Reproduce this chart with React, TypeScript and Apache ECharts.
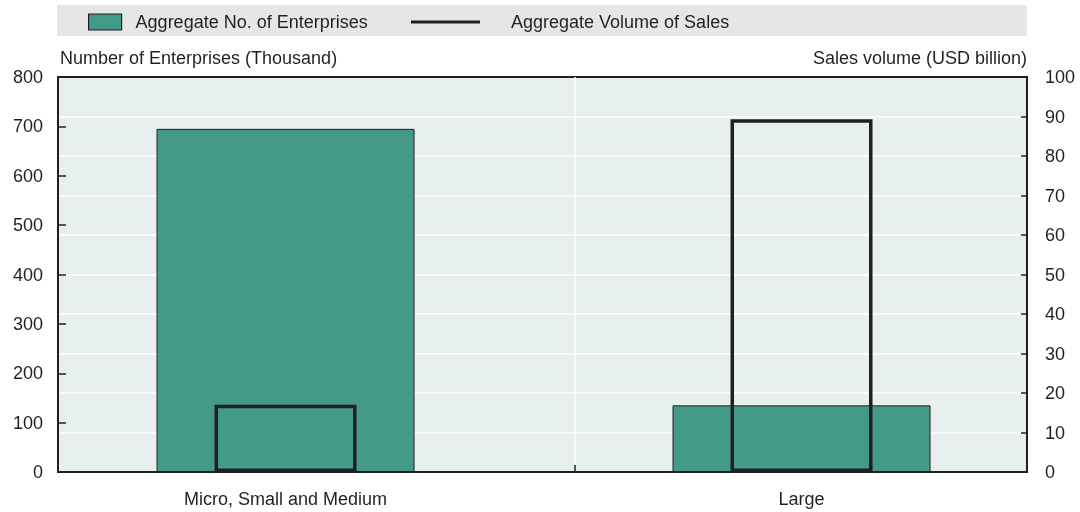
import React, { useEffect, useRef } from "react";
import * as echarts from "echarts";

const CATEGORIES = ["Micro, Small and Medium", "Large"];
const CATEGORY_POS = [0, 1];
const ENTERPRISES = [695, 135];
const SALES = [17, 89.3];
const LEFT_TICKS = { min: 0, max: 800, interval: 100 };
const RIGHT_TICKS = { min: 0, max: 100, interval: 10 };
const SERIES_NAMES = ["Aggregate No. of Enterprises", "Aggregate Volume of Sales"];

// layout of the category positions on the horizontal axis
const X_MIN = -0.441;
const X_MAX = 1.437;
const DIVIDER = 0.561;

const FONT = "'Liberation Sans Narrow', 'Liberation Sans', Arial, sans-serif";
const TEXT = "#231f20";
const GREEN = "#449a89";

export default function App() {
  const ref = useRef<HTMLDivElement>(null);
  useEffect(() => {
    if (!ref.current) return;
    const chart = echarts.init(ref.current, null, { renderer: "svg" });
    const axisLine = { show: true, onZero: false, lineStyle: { color: TEXT, width: 2 } };
    const option: any = {
      animation: false,
      textStyle: { fontFamily: FONT, color: TEXT },
      graphic: [
        {
          type: "rect",
          z: -10,
          shape: { x: 57, y: 5, width: 970, height: 31 },
          style: { fill: "#e6e6e7" },
        },
      ],
      legend: [
        {
          left: 88,
          top: 13,
          padding: 0,
          itemWidth: 33,
          itemHeight: 16,
          data: [
            {
              name: SERIES_NAMES[0],
              icon: "rect",
              itemStyle: { color: GREEN, borderColor: TEXT, borderWidth: 1.2 },
            },
          ],
          textStyle: { fontFamily: FONT, fontSize: 18, color: TEXT, lineHeight: 16, padding: [0, 0, 0, 9] },
        },
        {
          left: 411,
          top: 13,
          padding: 0,
          itemWidth: 69,
          itemHeight: 3,
          data: [
            {
              name: SERIES_NAMES[1],
              icon: "rect",
              itemStyle: { color: TEXT, borderWidth: 0 },
            },
          ],
          textStyle: { fontFamily: FONT, fontSize: 18, color: TEXT, lineHeight: 16, padding: [0, 0, 0, 26] },
        },
      ],
      grid: {
        left: 58,
        right: 53,
        top: 77,
        bottom: 40,
        show: true,
        backgroundColor: "#e8f0ef",
        borderColor: TEXT,
        borderWidth: 2,
      },
      xAxis: [
        {
          type: "value",
          min: X_MIN,
          max: X_MAX,
          axisLine,
          axisTick: {
            show: true,
            inside: true,
            length: 7,
            customValues: [DIVIDER],
            lineStyle: { color: TEXT, width: 1.5 },
          },
          axisLabel: {
            customValues: CATEGORY_POS,
            formatter: (v: number) => CATEGORIES[Math.round(v)],
            margin: 18,
            fontFamily: FONT,
            fontSize: 18,
            color: TEXT,
          },
          splitLine: { show: true, lineStyle: { color: "#ffffff", width: 1.5 } },
        },
        {
          type: "value",
          min: X_MIN,
          max: X_MAX,
          show: false,
        },
      ],
      yAxis: [
        {
          type: "value",
          position: "left",
          ...LEFT_TICKS,
          name: "Number of Enterprises (Thousand)",
          nameLocation: "end",
          nameGap: 19,
          nameTextStyle: { align: "left", verticalAlign: "middle", fontFamily: FONT, fontSize: 18, color: TEXT, padding: [0, 0, 0, 2] },
          axisLine,
          axisTick: { show: true, inside: true, length: 8, lineStyle: { color: TEXT, width: 1.5 } },
          axisLabel: { margin: 15, fontFamily: FONT, fontSize: 18, color: TEXT },
          splitLine: { show: false },
        },
        {
          type: "value",
          position: "right",
          ...RIGHT_TICKS,
          name: "Sales volume (USD billion)",
          nameLocation: "end",
          nameGap: 19,
          nameTextStyle: { align: "right", verticalAlign: "middle", fontFamily: FONT, fontSize: 18, color: TEXT },
          axisLine,
          axisTick: { show: true, inside: true, length: 6, lineStyle: { color: TEXT, width: 1.5 } },
          axisLabel: { margin: 18, fontFamily: FONT, fontSize: 18, color: TEXT },
          splitLine: { show: true, showMinLine: false, showMaxLine: false, lineStyle: { color: "#ffffff", width: 1.5 } },
        },
      ],
      series: [
        {
          name: SERIES_NAMES[0],
          type: "bar",
          xAxisIndex: 0,
          yAxisIndex: 0,
          barWidth: 258,
          data: CATEGORY_POS.map((x, i) => [x, ENTERPRISES[i]]),
          itemStyle: { color: GREEN, borderColor: TEXT, borderWidth: 1 },
        },
        {
          name: SERIES_NAMES[1],
          type: "bar",
          xAxisIndex: 1,
          yAxisIndex: 1,
          barWidth: 142,
          data: CATEGORY_POS.map((x, i) => [x, SALES[i]]),
          itemStyle: { color: "rgba(0,0,0,0)", borderColor: TEXT, borderWidth: 3.5 },
        },
      ],
    };
    chart.setOption(option);
    return () => chart.dispose();
  }, []);
  return <div ref={ref} style={{ position: "fixed", left: 0, top: 0, width: 1080, height: 512 }} />;
}
